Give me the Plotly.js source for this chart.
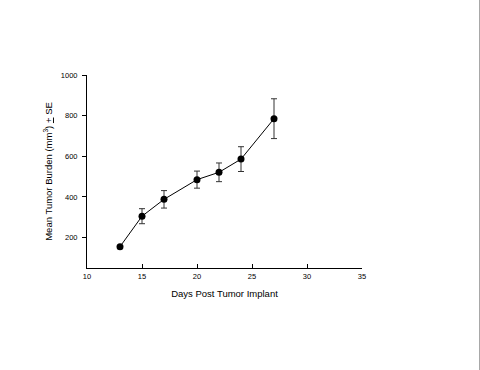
<!DOCTYPE html>
<html><head><meta charset="utf-8">
<script src="https://cdn.plot.ly/plotly-3.0.1.min.js"></script>
<style>html,body{margin:0;padding:0;background:#fff;}#edge{position:absolute;left:479px;top:0;width:1px;height:370px;background:#a8a8a8;}</style>
</head><body>
<div id="chart" style="width:480px;height:370px;"></div>
<div id="edge"></div>
<script>
const days = [13, 15, 17, 20, 22, 24, 27];
const meanBurden = [155, 305, 388, 485, 521, 586, 785];
const se = [5, 37, 43, 42, 46, 61, 98];
const xTicks = [10, 15, 20, 25, 30, 35];
const yTicks = [200, 400, 600, 800, 1000];

const trace = {
  x: days, y: meanBurden, type: 'scatter', mode: 'lines+markers',
  line: {color: '#000', width: 1},
  marker: {color: '#000', size: 7},
  error_y: {type: 'data', array: se, visible: true, color: '#333', thickness: 1, width: 3}
};
const font = {family: 'Liberation Sans, Arial, sans-serif', color: '#000'};
const layout = {
  width: 480, height: 370,
  margin: {l: 87, r: 118, t: 75, b: 102, pad: 0},
  paper_bgcolor: '#fff', plot_bgcolor: '#fff',
  showlegend: false,
  font: font,
  xaxis: {
    range: [10, 35], tickvals: xTicks, ticktext: xTicks.map(String),
    showgrid: false, zeroline: false, showline: true, linecolor: '#000', linewidth: 1,
    ticks: 'inside', ticklen: 4, tickcolor: '#000', tickwidth: 1, ticklabelstandoff: 1,
    tickfont: {family: font.family, size: 7.5, color: '#000'},
    title: {text: 'Days Post Tumor Implant', font: {family: font.family, size: 9.5, color: '#000'}, standoff: 10}
  },
  yaxis: {
    range: [50, 1000], tickvals: yTicks, ticktext: yTicks.map(String),
    showgrid: false, zeroline: false, showline: true, linecolor: '#000', linewidth: 1,
    ticks: 'outside', ticklen: 4, tickcolor: '#000', tickwidth: 1, ticklabelstandoff: 3,
    tickfont: {family: font.family, size: 7.5, color: '#000'},
    title: {text: 'Mean Tumor Burden (mm<sup>3</sup>) <u>+</u> SE', font: {family: font.family, size: 9.5, color: '#000'}, standoff: 6}
  }
};
Plotly.newPlot('chart', [trace], layout, {displayModeBar: false, staticPlot: true});
</script>
</body></html>
